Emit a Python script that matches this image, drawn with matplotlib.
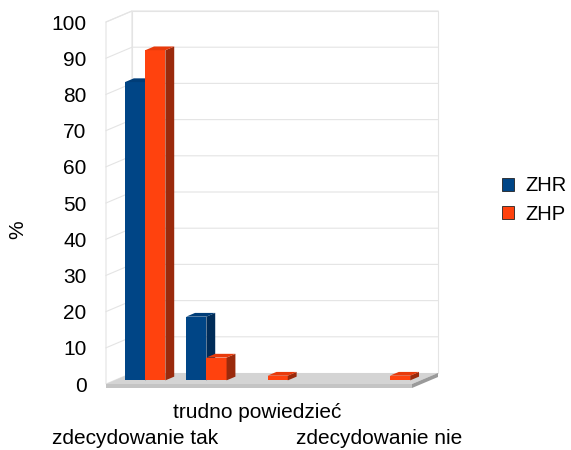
"""3D-style grouped bar chart: ZHR vs ZHP answers (percent)."""

import matplotlib
matplotlib.use("Agg")
import matplotlib.pyplot as plt
from matplotlib.patches import Polygon, Patch
from matplotlib.transforms import blended_transform_factory

# Data
CATEGORIES = ["zdecydowanie tak", "raczej tak", "trudno powiedzieć",
              "raczej nie", "zdecydowanie nie"]
# only every second label fits, staggered on two rows
SHOWN_LABELS = ["zdecydowanie tak", "", "trudno powiedzieć", "",
                "zdecydowanie nie"]
ZHR = [82.4, 17.6, 0.0, 0.0, 0.0]
ZHP = [91.2, 6.3, 1.3, 0.0, 1.3]
SERIES = [("ZHR", ZHR), ("ZHP", ZHP)]
Y_TICKS = list(range(0, 101, 10))

# Colours: front, top, side
COLORS = {
    "ZHR": ("#004586", "#003d78", "#002c58"),
    "ZHP": ("#ff420e", "#e83a0b", "#9a2a0c"),
}
GRID = "#e4e4e4"
FS = 15

plt.rcParams["font.family"] = ["Liberation Sans", "DejaVu Sans"]

W, H = 571, 450
fig = plt.figure(figsize=(W / 100, H / 100), dpi=100)
# front plane of the plot: x 106..412 px, y 22..384 px
ax = fig.add_axes([106 / W, (H - 384) / H, 306 / W, 362 / H])
ax.set_xlim(-0.5, len(CATEGORIES) - 0.5)
ax.set_ylim(0, 100)
ax.set_frame_on(False)

SX = 306 / len(CATEGORIES)   # px per category
SY = 362 / 100               # px per percent
DEPTH = (26, 11)             # px, receding right / up


def shift(x, y, f):
    """Move a point f of the way back into the depth."""
    return x + f * DEPTH[0] / SX, y + f * DEPTH[1] / SY


def poly(pts, **kw):
    ax.add_patch(Polygon(pts, closed=True, clip_on=False, **kw))


x0, x1 = ax.get_xlim()

# walls
poly([(x0, 0), (x0, 100), shift(x0, 100, 1), shift(x0, 0, 1)],
     facecolor="white", edgecolor=GRID, lw=0.8, zorder=0)
poly([shift(x0, 0, 1), shift(x0, 100, 1), shift(x1, 100, 1), shift(x1, 0, 1)],
     facecolor="white", edgecolor=GRID, lw=0.8, zorder=0)
for t in Y_TICKS[1:]:
    a, b = shift(x0, t, 1), shift(x1, t, 1)
    ax.plot([x0, a[0], b[0]], [t, a[1], b[1]], color=GRID, lw=0.8,
            clip_on=False, zorder=1)

# floor slab
th = 4 / SY
poly([(x0, 0), (x1, 0), shift(x1, 0, 1), shift(x0, 0, 1)],
     facecolor="#d4d4d4", edgecolor="none", zorder=2)
poly([(x0, 0), (x1, 0), (x1, -th), (x0, -th)],
     facecolor="#c4c4c4", edgecolor="none", zorder=2)
r0, r1 = shift(x1, 0, 1), shift(x1, -th, 1)
poly([(x1, 0), r0, r1, (x1, -th)],
     facecolor="#9a9a9a", edgecolor="none", zorder=2)

# bars
bw = 0.33
f0, f1 = 0.33, 0.67
for i in range(len(CATEGORIES)):
    for k, (name, vals) in enumerate(SERIES):
        v = vals[i]
        if v <= 0:
            continue
        front, top, side = COLORS[name]
        left = i - bw + k * bw
        bx, by = shift(left, 0, f0)
        ax.bar(bx, v, width=bw, bottom=by, align="edge", color=front,
               clip_on=False, zorder=3)
        br, bt = bx + bw, by + v
        poly([(br, by), (br, bt), shift(br, bt, f1 - f0), shift(br, by, f1 - f0)],
             facecolor=side, edgecolor="none", zorder=3)
        poly([(bx, bt), (br, bt), shift(br, bt, f1 - f0), shift(bx, bt, f1 - f0)],
             facecolor=top, edgecolor="none", zorder=3)

# axes text
ax.set_yticks(Y_TICKS)
ax.tick_params(axis="y", length=0, pad=14, labelsize=FS)
ax.set_xticks(range(len(CATEGORIES)))
ax.set_xticklabels([])
ax.tick_params(axis="x", length=0)
trans = blended_transform_factory(ax.transData, fig.transFigure)
for i, lab in enumerate(SHOWN_LABELS):
    if not lab:
        continue
    row_y = 413 if (i // 2) % 2 else 439
    ax.text(i - 0.03, 1 - row_y / H, lab, transform=trans, fontsize=FS,
            ha="center", va="center")
fig.text(18 / W, 1 - 230 / H, "%", rotation=90, fontsize=FS,
         ha="center", va="center")

handles = [Patch(facecolor=COLORS[n][0], edgecolor="#222222", lw=0.6)
           for n, _ in SERIES]
fig.legend(handles, [n for n, _ in SERIES], loc="center left",
           bbox_to_anchor=(502 / W, 1 - 200 / H), frameon=False,
           fontsize=14.5, handlelength=0.6, handleheight=0.6,
           handletextpad=0.55, labelspacing=0.45, borderpad=0,
           borderaxespad=0)

fig.savefig("out.png", dpi=100)
